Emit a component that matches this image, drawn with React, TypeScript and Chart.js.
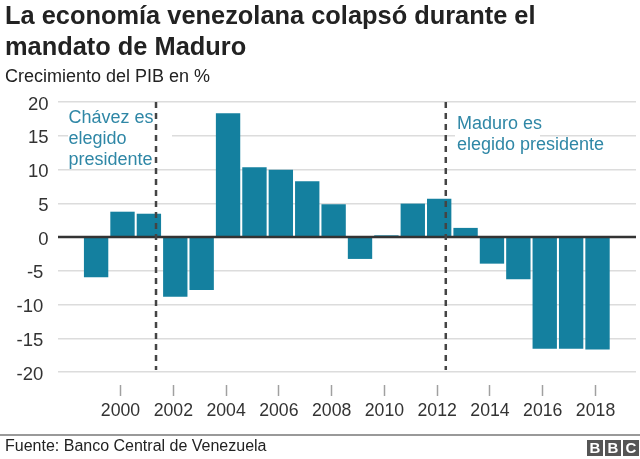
import { useEffect, useRef } from 'react';
import { Chart, registerables } from 'chart.js';

Chart.register(...registerables);

const years = [1999, 2000, 2001, 2002, 2003, 2004, 2005, 2006, 2007, 2008, 2009, 2010, 2011, 2012, 2013, 2014, 2015, 2016, 2017, 2018];
const growth = [-5.9, 3.7, 3.4, -8.8, -7.8, 18.3, 10.3, 9.9, 8.2, 4.8, -3.2, 0.2, 4.9, 5.6, 1.3, -3.9, -6.2, -16.5, -16.5, -16.6];
const xTicks = [2000, 2002, 2004, 2006, 2008, 2010, 2012, 2014, 2016, 2018];
const eventYears = [2001.27, 2012.25];

const FONT = '"Liberation Sans", Arial, sans-serif';
const BAR = '#14809f';
const NOTE = '#2f87a6';
// the original's tick marks sit about 2px left of the bar centres
const TICK_SHIFT = 0.075;

// the notes sit on white boxes that cut the 15 gridline
const noteBoxes = {
  id: 'noteBoxes',
  beforeDatasetsDraw(chart: any) {
    const { ctx } = chart;
    ctx.save();
    ctx.fillStyle = '#ffffff';
    ctx.fillRect(68, 125, 104, 22);
    ctx.fillRect(455, 125, 85, 22);
    ctx.restore();
  },
};

// zero line, dashed markers and the two notes go on top of the bars
const overlay = {
  id: 'overlay',
  afterDatasetsDraw(chart: any) {
    const { ctx, scales, chartArea } = chart;
    const y0 = scales.y.getPixelForValue(0);
    ctx.save();
    ctx.strokeStyle = '#333333';
    ctx.lineWidth = 2.5;
    ctx.beginPath();
    ctx.moveTo(chartArea.left, y0);
    ctx.lineTo(chartArea.right, y0);
    ctx.stroke();

    ctx.strokeStyle = '#444444';
    ctx.lineWidth = 2.5;
    ctx.setLineDash([6, 5]);
    eventYears.forEach((yr) => {
      const x = scales.x.getPixelForValue(yr);
      ctx.beginPath();
      ctx.moveTo(x, chartArea.top);
      ctx.lineTo(x, chartArea.bottom - 2);
      ctx.stroke();
    });
    ctx.setLineDash([]);

    ctx.fillStyle = NOTE;
    ctx.font = `18px ${FONT}`;
    ctx.textBaseline = 'alphabetic';
    ctx.fillText('Chávez es', 68.5, 123);
    ctx.fillText('elegido', 68.5, 144);
    ctx.fillText('presidente', 68.5, 165);
    ctx.fillText('Maduro es', 457, 129);
    ctx.fillText('elegido presidente', 457, 150);
    ctx.restore();
  },
};

export default function App() {
  const canvasRef = useRef<HTMLCanvasElement | null>(null);

  useEffect(() => {
    if (!canvasRef.current) return;
    const chart = new Chart(canvasRef.current, {
      type: 'bar',
      data: {
        labels: years,
        datasets: [{
          data: years.map((yr, i) => ({ x: yr, y: growth[i] })),
          backgroundColor: BAR,
          barThickness: 23.7,
        }],
      },
      options: {
        animation: false,
        responsive: false,
        layout: { padding: { top: 102, bottom: 87, left: 0, right: 4 } },
        plugins: { legend: { display: false }, tooltip: { enabled: false } },
        scales: {
          x: {
            type: 'linear',
            offset: false,
            position: { y: -21.93 },
            min: 1997.556,
            max: 2019.458,
            afterBuildTicks: (scale: any) => {
              scale.ticks = xTicks.map((yr) => ({ value: yr - TICK_SHIFT }));
            },
            grid: { offset: false, drawOnChartArea: false, tickLength: 11, tickColor: '#a0a0a0', tickWidth: 1.5 },
            border: { display: false },
            ticks: {
              color: '#333333',
              font: { family: FONT, size: 17.7 },
              padding: 4,
              autoSkip: false,
              maxRotation: 0,
              callback: (v: any) => String(Math.round(v)),
            },
          },
          y: {
            min: -20,
            max: 20,
            afterFit: (scale: any) => { scale.width = 58; },
            grid: { color: '#dcdcdc', lineWidth: 1.5, drawTicks: false },
            border: { display: false },
            ticks: {
              stepSize: 5,
              color: '#333333',
              font: { family: FONT, size: 18.5 },
              padding: 9.5,
              labelOffset: 2.5,
              // negative labels end a little further left in the original
              callback: (v: any) => (v < 0 ? `${v} ` : String(v)),
            },
          },
        },
      },
      plugins: [noteBoxes, overlay],
    } as any);
    return () => chart.destroy();
  }, []);

  const abs = (left: number, top: number, size: number, extra = {}) => ({
    position: 'absolute' as const, left, top, fontSize: size, fontFamily: FONT, color: '#222222', whiteSpace: 'pre' as const, ...extra,
  });

  return (
    <div style={{ position: 'absolute', left: 0, top: 0, width: 640, height: 459, background: '#fff', overflow: 'hidden' }}>
      <canvas ref={canvasRef} width={640} height={459} style={{ position: 'absolute', left: 0, top: 0 }} />
      <div style={abs(5, 0, 25.4, { fontWeight: 700, lineHeight: '31px' })}>{'La economía venezolana colapsó durante el\nmandato de Maduro'}</div>
      <div style={abs(5, 65, 18, { lineHeight: '22px' })}>Crecimiento del PIB en %</div>
      <div style={{ position: 'absolute', left: 0, top: 434, width: 640, height: 2, background: '#999999' }} />
      <div style={abs(5, 436, 16, { lineHeight: '20px' })}>Fuente: Banco Central de Venezuela</div>
      {['B', 'B', 'C'].map((letter, i) => (
        <div key={i} style={abs(587 + i * 18, 440, 15, { width: 16, height: 16, background: '#555555', color: '#ffffff', fontWeight: 700, textAlign: 'center', lineHeight: '16px' })}>{letter}</div>
      ))}
    </div>
  );
}
